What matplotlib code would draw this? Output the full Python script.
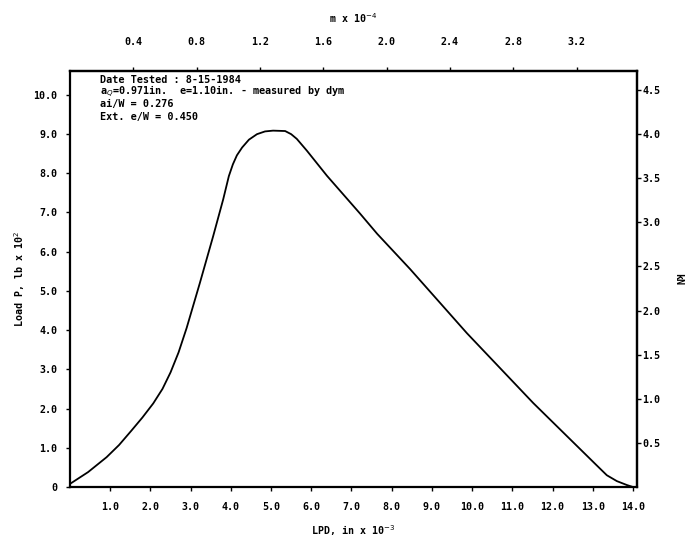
import matplotlib
matplotlib.use("Agg")
import matplotlib.pyplot as plt

# Load-displacement record (LPD in in x 10^-3, load in lb x 10^2)
lpd = [0.00, 0.45, 0.91, 1.22, 1.53, 1.80, 2.07, 2.30, 2.50, 2.70, 2.90, 3.23,
       3.56, 3.81, 3.95, 4.05, 4.15, 4.28, 4.45, 4.65, 4.85, 5.05, 5.35, 5.50,
       5.64, 5.89, 6.39, 7.21, 7.64, 8.46, 9.87, 11.52, 13.10, 13.35, 13.60,
       13.85, 14.00]
load = [0.08, 0.38, 0.76, 1.07, 1.44, 1.77, 2.13, 2.50, 2.92, 3.43, 4.05, 5.20,
        6.39, 7.33, 7.92, 8.22, 8.45, 8.65, 8.85, 8.99, 9.06, 9.08, 9.07, 8.99,
        8.87, 8.57, 7.93, 6.97, 6.45, 5.55, 3.92, 2.14, 0.55, 0.30, 0.15,
        0.05, 0.00]

x_ticks = [1.0, 2.0, 3.0, 4.0, 5.0, 6.0, 7.0, 8.0, 9.0, 10.0, 11.0, 12.0, 13.0, 14.0]
y_ticks = [0, 1.0, 2.0, 3.0, 4.0, 5.0, 6.0, 7.0, 8.0, 9.0, 10.0]
y_tick_labels = ["0", "1.0", "2.0", "3.0", "4.0", "5.0", "6.0", "7.0", "8.0", "9.0", "10.0"]
top_ticks = [0.4, 0.8, 1.2, 1.6, 2.0, 2.4, 2.8, 3.2]
right_ticks = [0.5, 1.0, 1.5, 2.0, 2.5, 3.0, 3.5, 4.0, 4.5]

notes = [
    "Date Tested : 8-15-1984",
    "a$_Q$=0.971in.  e=1.10in. - measured by dym",
    "ai/W = 0.276",
    "Ext. e/W = 0.450",
]
note_y = [10.38, 10.07, 9.75, 9.42]

IN_TO_M = 0.254        # in x 10^-3  ->  m x 10^-4
LB_TO_KN = 0.444822    # lb x 10^2   ->  kN

FONT = "DejaVu Sans Mono"
fs = 7.2

fig = plt.figure(figsize=(6.89, 5.41), dpi=100)
ax = fig.add_axes([0.1016, 0.0998, 0.8229, 0.769])

ax.plot(lpd, load, color="black", lw=1.3, solid_joinstyle="round")

ax.set_xlim(0, 14.1)
ax.set_ylim(0, 10.6)

for sp in ax.spines.values():
    sp.set_linewidth(1.6)

ax.set_xticks(x_ticks)
ax.set_xticklabels([f"{v:.1f}" for v in x_ticks])
ax.set_yticks(y_ticks)
ax.set_yticklabels(y_tick_labels)
ax.tick_params(axis="both", direction="out", length=3, width=1.0,
               labelsize=fs, pad=6)
ax.tick_params(axis="x", pad=8)
for lab in ax.get_xticklabels() + ax.get_yticklabels():
    lab.set_family(FONT)
    lab.set_fontweight("bold")

ax.set_xlabel("LPD, in x 10$^{-3}$", fontsize=fs, family=FONT,
              fontweight="bold", labelpad=8)
ax.set_ylabel("Load P, lb x 10$^{2}$", fontsize=fs, family=FONT,
              fontweight="bold", labelpad=5)

# top axis in metres
top = ax.secondary_xaxis("top", functions=(lambda v: v * IN_TO_M,
                                           lambda v: v / IN_TO_M))
top.set_xticks(top_ticks)
top.set_xticklabels([f"{v:.1f}" for v in top_ticks])
top.tick_params(direction="out", length=3, width=1.0, labelsize=fs, pad=14)
for lab in top.get_xticklabels():
    lab.set_family(FONT)
    lab.set_fontweight("bold")
top.set_xlabel("m x 10$^{-4}$", fontsize=fs, family=FONT,
               fontweight="bold", labelpad=10)
top.spines["top"].set_linewidth(1.6)

# right axis in kN
right = ax.secondary_yaxis("right", functions=(lambda v: v * LB_TO_KN,
                                               lambda v: v / LB_TO_KN))
right.set_yticks(right_ticks)
right.set_yticklabels([f"{v:.1f}" for v in right_ticks])
right.tick_params(direction="out", length=3, width=1.0, labelsize=fs, pad=1)
for lab in right.get_yticklabels():
    lab.set_family(FONT)
    lab.set_fontweight("bold")
right.set_ylabel("kN", fontsize=fs, family=FONT, fontweight="bold",
                 rotation=270, labelpad=16)
right.spines["right"].set_linewidth(1.6)

# test annotations
for txt, yv in zip(notes, note_y):
    ax.text(0.75, yv, txt, fontsize=7.3, family=FONT,
            fontweight="bold", va="center", ha="left")

fig.savefig("out.png", dpi=100)
